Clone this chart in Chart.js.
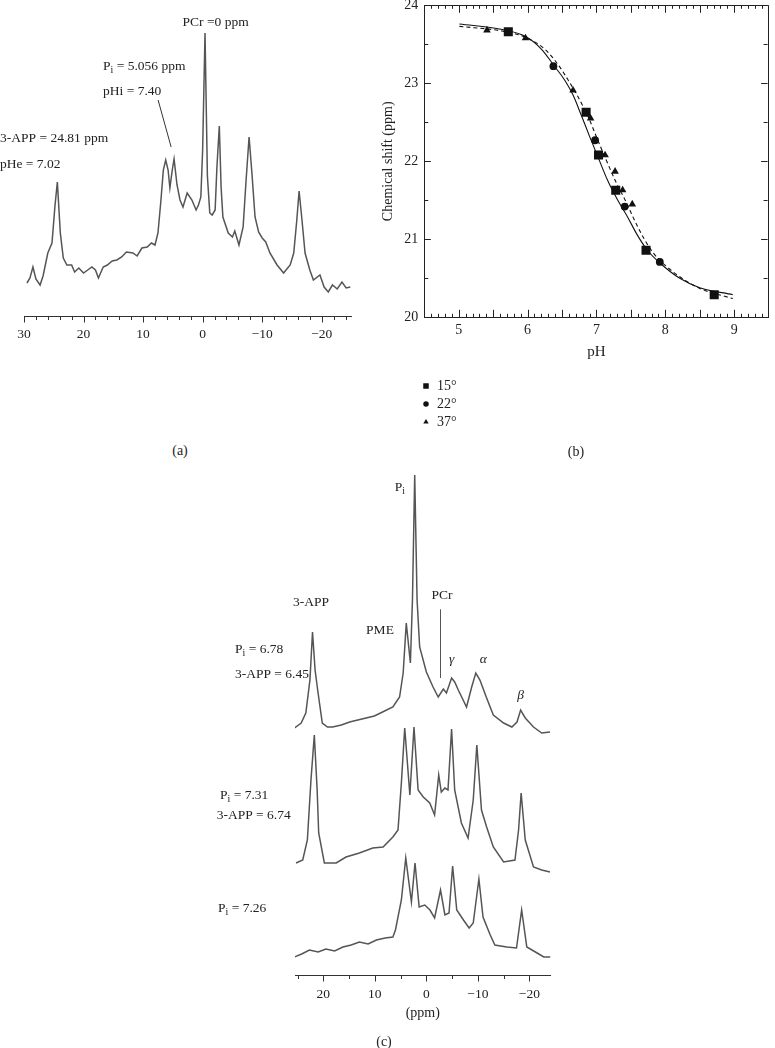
<!DOCTYPE html>
<html>
<head>
<meta charset="utf-8">
<script src="https://cdn.jsdelivr.net/npm/chart.js@4.4.1/dist/chart.umd.min.js"></script>
<style>
  html, body { margin:0; padding:0; background:#ffffff; }
  body { width:775px; height:1048px; position:relative; overflow:hidden; }
  canvas { position:absolute; }
  .cap { position:absolute; font-family:"Liberation Serif","Times New Roman",serif; font-size:14px; color:#222; transform:translate(-50%,-50%); white-space:nowrap; }
</style>
</head>
<body>
<canvas id="chartA" width="370" height="350" style="left:0px;top:0px"></canvas>
<canvas id="chartB" width="405" height="480" style="left:370px;top:-10px"></canvas>
<canvas id="chartC" width="380" height="588" style="left:200px;top:460px"></canvas>
<div class="cap" style="left:180px;top:451px">(a)</div>
<div class="cap" style="left:576px;top:452px">(b)</div>
<div class="cap" style="left:384px;top:1042px">(c)</div>
<script>
// ================= DATA =================
// Panel (a): 31P spectrum, chemical shift (ppm) vs relative intensity
const ppmA = [29.5, 29.0, 28.5, 28.0, 27.3, 26.8, 26.0, 25.3, 24.8, 24.4, 23.9, 23.4, 22.8, 22.0, 21.5, 20.8, 20.0, 19.3, 18.6, 18.0, 17.5, 16.7, 16.0, 15.2, 14.4, 13.6, 12.8, 11.7, 11.0, 10.2, 9.3, 8.6, 8.0, 7.5, 7.0, 6.6, 6.2, 5.8, 5.5, 5.1, 4.8, 4.3, 3.8, 3.3, 2.6, 1.8, 1.1, 0.7, 0.3, 0.0, -0.4, -0.8, -1.2, -1.6, -2.1, -2.4, -2.8, -3.1, -3.4, -4.3, -5.0, -5.4, -6.1, -6.8, -7.3, -7.8, -8.3, -8.8, -9.4, -10.0, -10.6, -11.3, -12.5, -13.6, -14.7, -15.3, -15.8, -16.2, -16.7, -17.2, -18.0, -18.6, -19.7, -20.4, -21.1, -21.8, -22.6, -23.4, -24.1, -24.8];
const intA = [33, 38, 49, 37, 31, 40, 63, 73, 110, 134, 83, 58, 51, 51, 44, 48, 43, 46, 49, 46, 38, 49, 51, 55, 56, 59, 64, 63, 60, 68, 69, 73, 71, 83, 116, 146, 156, 146, 128, 146, 157, 131, 116, 109, 123, 116, 106, 111, 119, 166, 283, 140, 103, 101, 106, 149, 190, 129, 99, 83, 79, 85, 71, 89, 136, 179, 141, 99, 84, 78, 74, 63, 51, 43, 51, 63, 95, 125, 95, 63, 46, 36, 41, 29, 24, 31, 27, 34, 28, 29];
const tickValsA = [30, 20, 10, 0, -10, -20];
const tickLabsA = ['30', '20', '10', '0', '\u221210', '\u221220'];

// Panel (b): chemical shift of 3-APP vs pH at three temperatures
const seriesLabelsB = ['15\u00b0', '22\u00b0', '37\u00b0'];
const pH15 = [5.72, 6.85, 7.03, 7.28, 7.72, 8.71];
const shift15 = [23.66, 22.63, 22.08, 21.63, 20.86, 20.29];
const pH22 = [6.375, 6.98, 7.41, 7.92];
const shift22 = [23.22, 22.27, 21.42, 20.71];
const pH37 = [5.41, 5.97, 6.66, 6.915, 7.125, 7.27, 7.38, 7.52];
const shift37 = [23.68, 23.58, 22.91, 22.55, 22.08, 21.87, 21.63, 21.45];
const fitSolidPH = [5.01, 5.63, 5.97, 6.21, 6.38, 6.54, 6.66, 6.78, 6.90, 7.02, 7.16, 7.31, 7.45, 7.59, 7.74, 7.93, 8.21, 8.50, 8.98];
const fitSolidShift = [23.76, 23.69, 23.60, 23.43, 23.23, 23.04, 22.85, 22.59, 22.32, 22.06, 21.76, 21.50, 21.29, 21.06, 20.86, 20.69, 20.50, 20.38, 20.29];
const fitDashPH = [5.01, 5.63, 5.97, 6.26, 6.45, 6.59, 6.73, 6.88, 7.02, 7.14, 7.28, 7.43, 7.55, 7.69, 7.83, 8.02, 8.26, 8.50, 8.98];
const fitDashShift = [23.73, 23.67, 23.59, 23.43, 23.23, 23.04, 22.83, 22.57, 22.27, 22.02, 21.74, 21.48, 21.25, 21.01, 20.82, 20.65, 20.49, 20.37, 20.24];
const tickValsBx = [5, 6, 7, 8, 9];
const tickLabsBx = ['5', '6', '7', '8', '9'];
const tickValsBy = [20, 21, 22, 23, 24];
const tickLabsBy = ['20', '21', '22', '23', '24'];

// Panel (c): three stacked spectra (top: Pi = 6.78, middle: Pi = 7.31, bottom: Pi = 7.26)
const ppmCtop = [25.6, 24.3, 23.4, 22.6, 22.1, 21.6, 21.1, 20.2, 19.2, 18.2, 16.5, 14.9, 13.3, 11.7, 10.1, 8.5, 6.5, 5.2, 4.5, 3.9, 3.1, 2.7, 2.26, 1.8, 1.3, 0.0, -1.3, -2.3, -3.3, -3.9, -4.9, -5.5, -6.2, -7.8, -8.8, -9.6, -10.4, -11.7, -13.0, -15.0, -16.6, -17.6, -18.3, -19.2, -20.8, -22.4, -24.0];
const intCtop = [7, 12, 22, 55, 103, 65, 45, 12, 8, 8, 10, 13, 15, 17, 19, 23, 28, 38, 62, 112, 72, 135, 260, 135, 88, 63, 48, 38, 46, 42, 57, 53, 45, 28, 48, 62, 55, 37, 20, 12, 8, 13, 25, 17, 8, 2, 3];
const ppmCmid = [25.3, 24.0, 23.1, 22.4, 21.75, 21.2, 20.9, 19.8, 17.5, 15.6, 13.0, 10.4, 8.4, 6.5, 5.5, 4.85, 4.2, 3.2, 2.4, 1.6, 0.6, -0.66, -1.6, -2.4, -2.9, -3.6, -4.2, -4.9, -5.5, -6.8, -8.1, -9.1, -9.8, -10.7, -11.7, -13.0, -15.0, -17.2, -17.9, -18.4, -19.2, -20.8, -22.4, -24.0];
const intCmid = [7, 10, 30, 90, 135, 80, 37, 7, 7, 13, 17, 22, 23, 33, 40, 87, 142, 75, 143, 80, 73, 67, 55, 95, 78, 82, 80, 141, 80, 47, 32, 70, 125, 60, 43, 23, 8, 10, 40, 77, 30, 3, 0, -2];
const ppmCbot = [25.6, 24.2, 22.7, 21.0, 19.5, 17.8, 16.2, 14.6, 13.0, 11.3, 9.7, 8.0, 6.5, 6.0, 4.85, 4.0, 2.9, 2.2, 1.4, 0.3, -0.7, -1.6, -2.75, -3.6, -4.4, -5.1, -5.9, -7.2, -8.3, -9.1, -10.2, -11.0, -12.4, -13.3, -15.6, -17.5, -18.5, -19.5, -21.5, -22.8, -24.1];
const intCbot = [3, 6, 10, 8, 11, 9, 13, 15, 18, 16, 20, 22, 23, 30, 60, 102, 58, 97, 53, 55, 50, 42, 70, 45, 47, 94, 50, 40, 32, 37, 81, 43, 25, 15, 13, 12, 50, 13, 7, 3, 3];
const tickValsC = [20, 10, 0, -10, -20];
const tickLabsC = ['20', '10', '0', '\u221210', '\u221220'];

// ================= SETUP =================
const FAMILY = '"Liberation Serif", "Times New Roman", serif';
Chart.defaults.font.family = FAMILY;
Chart.defaults.color = '#222';
const LINE = '#555555';
const INK = '#222';

function xy(xs, ys, off) { off = off || 0; return xs.map((x, i) => ({ x: x, y: ys[i] + off })); }

function drawParts(ctx, px, py, parts, align, size, italic) {
  const fMain = (italic ? 'italic ' : '') + size + 'px ' + FAMILY;
  const fSub = Math.round(size * 0.72) + 'px ' + FAMILY;
  let w = 0;
  for (const p of parts) { ctx.font = p[1] ? fSub : fMain; w += ctx.measureText(p[0]).width; }
  let cx = align === 'center' ? px - w / 2 : px;
  ctx.textAlign = 'left'; ctx.textBaseline = 'middle'; ctx.fillStyle = INK;
  for (const p of parts) {
    ctx.font = p[1] ? fSub : fMain;
    ctx.fillText(p[0], cx, p[1] ? py + size * 0.32 : py);
    cx += ctx.measureText(p[0]).width;
  }
}
function vTick(ctx, x, y0, y1) { const px = Math.round(x) + 0.5; ctx.beginPath(); ctx.moveTo(px, y0); ctx.lineTo(px, y1); ctx.stroke(); }
function hTick(ctx, y, x0, x1) { const py = Math.round(y) + 0.5; ctx.beginPath(); ctx.moveTo(x0, py); ctx.lineTo(x1, py); ctx.stroke(); }

// ================= PANEL (a) =================
const annotA = [
  { x: -2.18, y: 294, parts: [['PCr =0 ppm']], align: 'center' },
  { x: 16.72, y: 250, parts: [['P'], ['i', 1], [' = 5.056 ppm']], align: 'left' },
  { x: 16.72, y: 225, parts: [['pHi = 7.40']], align: 'left' },
  { x: 34.03, y: 178, parts: [['3-APP = 24.81 ppm']], align: 'left' },
  { x: 34.03, y: 152, parts: [['pHe = 7.02']], align: 'left' }
];
const pointerA = [[7.48, 216], [5.29, 169]];

const panelAPlugin = {
  id: 'panelA',
  afterDraw(chart) {
    const ctx = chart.ctx, ca = chart.chartArea, xs = chart.scales.x, ys = chart.scales.y;
    ctx.save();
    ctx.strokeStyle = '#333'; ctx.lineWidth = 1;
    for (let v = 30; v >= -24; v -= 2) {
      vTick(ctx, xs.getPixelForValue(v), ca.bottom, ca.bottom + (v % 10 === 0 ? 6.5 : 4));
    }
    ctx.beginPath();
    ctx.moveTo(xs.getPixelForValue(pointerA[0][0]), ys.getPixelForValue(pointerA[0][1]));
    ctx.lineTo(xs.getPixelForValue(pointerA[1][0]), ys.getPixelForValue(pointerA[1][1]));
    ctx.stroke();
    annotA.forEach(a => drawParts(ctx, xs.getPixelForValue(a.x), ys.getPixelForValue(a.y), a.parts, a.align, 13.5));
    ctx.restore();
  }
};

new Chart(document.getElementById('chartA'), {
  type: 'scatter',
  data: { datasets: [{ label: 'spectrum', data: xy(ppmA, intA), showLine: true, borderColor: LINE, borderWidth: 1.5, pointRadius: 0, tension: 0, fill: false }] },
  options: {
    responsive: false, animation: false, devicePixelRatio: 1,
    layout: { padding: { left: 24, right: 18.5, top: 16, bottom: 0 } },
    plugins: { legend: { display: false }, tooltip: { enabled: false } },
    scales: {
      x: {
        type: 'linear', position: 'bottom', reverse: true, min: -25, max: 30,
        afterBuildTicks: s => { s.ticks = tickValsA.map(v => ({ value: v })); },
        afterFit: s => { s.height = 34; },
        grid: { display: false, drawTicks: false },
        border: { display: true, color: '#333', width: 1 },
        ticks: { padding: 10, font: { size: 13.5 }, color: INK, maxRotation: 0, autoSkip: false, callback: (v, i) => tickLabsA[i] }
      },
      y: { display: false, min: 0, max: 300 }
    }
  },
  plugins: [panelAPlugin]
});

// ================= PANEL (b) =================
const legendOffsetsB = [68.7, 86.7, 104.7];
function drawMarker(ctx, style, x, y, s) {
  ctx.beginPath();
  if (style === 'rect') { ctx.rect(x - s / 2, y - s / 2, s, s); }
  else if (style === 'circle') { ctx.arc(x, y, s / 2, 0, Math.PI * 2); }
  else { const r = s / 1.6; ctx.moveTo(x, y - r); ctx.lineTo(x + r * 0.866, y + r * 0.5); ctx.lineTo(x - r * 0.866, y + r * 0.5); ctx.closePath(); }
  ctx.fill();
}
const panelBPlugin = {
  id: 'panelB',
  afterDraw(chart) {
    const ctx = chart.ctx, ca = chart.chartArea, xs = chart.scales.x, ys = chart.scales.y;
    ctx.save();
    ctx.strokeStyle = INK; ctx.lineWidth = 1;
    hTick(ctx, ca.top, ca.left, ca.right);
    vTick(ctx, ca.right - 1, ca.top, ca.bottom);
    for (let i = 46; i <= 94; i++) {
      const v = i / 10, px = xs.getPixelForValue(v), len = (i % 5 === 0) ? 7.5 : 3.5;
      vTick(ctx, px, ca.bottom, ca.bottom - len);
      vTick(ctx, px, ca.top, ca.top + len);
    }
    for (let j = 41; j <= 47; j++) {
      const v = j / 2, py = ys.getPixelForValue(v), len = (j % 2 === 0) ? 6.5 : 4;
      hTick(ctx, py, ca.left, ca.left + len);
      hTick(ctx, py, ca.right - 1, ca.right - 1 - len);
    }
    const markerSizes = { rect: 5.5, circle: 5.5, triangle: 5 };
    chart.data.datasets.slice(0, 3).forEach((ds, k) => {
      const my = ca.bottom + legendOffsetsB[k];
      ctx.fillStyle = ds.backgroundColor;
      drawMarker(ctx, ds.pointStyle, ca.left + 1.7, my, markerSizes[ds.pointStyle]);
      ctx.fillStyle = INK; ctx.font = '14px ' + FAMILY; ctx.textAlign = 'left'; ctx.textBaseline = 'middle';
      ctx.fillText(ds.label, ca.left + 12.7, my);
    });
    ctx.restore();
  }
};

new Chart(document.getElementById('chartB'), {
  type: 'scatter',
  data: {
    datasets: [
      { label: seriesLabelsB[0], data: xy(pH15, shift15), pointStyle: 'rect', pointRadius: 6.4, backgroundColor: '#111', borderWidth: 0, showLine: false },
      { label: seriesLabelsB[1], data: xy(pH22, shift22), pointStyle: 'circle', pointRadius: 3.9, backgroundColor: '#111', borderWidth: 0, showLine: false },
      { label: seriesLabelsB[2], data: xy(pH37, shift37), pointStyle: 'triangle', pointRadius: 4.4, backgroundColor: '#111', borderWidth: 0, showLine: false },
      { label: 'fit (solid)', data: xy(fitSolidPH, fitSolidShift), showLine: true, borderColor: '#111', borderWidth: 1.1, pointRadius: 0, cubicInterpolationMode: 'monotone', fill: false },
      { label: 'fit (dashed)', data: xy(fitDashPH, fitDashShift), showLine: true, borderColor: '#111', borderWidth: 1.1, borderDash: [4, 3], pointRadius: 0, cubicInterpolationMode: 'monotone', fill: false }
    ]
  },
  options: {
    responsive: false, animation: false, devicePixelRatio: 1,
    layout: { padding: { left: 0, right: 1, top: 15.3, bottom: 109.3 } },
    plugins: { legend: { display: false }, tooltip: { enabled: false } },
    scales: {
      x: {
        type: 'linear', position: 'bottom', min: 4.5, max: 9.5,
        afterBuildTicks: s => { s.ticks = tickValsBx.map(v => ({ value: v })); },
        afterFit: s => { s.height = 43.4; },
        grid: { display: false, drawTicks: false },
        border: { display: true, color: INK, width: 1 },
        ticks: { padding: 4.6, font: { size: 14 }, color: INK, maxRotation: 0, autoSkip: false, callback: (v, i) => tickLabsBx[i] },
        title: { display: true, text: 'pH', font: { size: 15 }, color: INK, padding: 0 }
      },
      y: {
        type: 'linear', position: 'left', min: 20, max: 24,
        afterBuildTicks: s => { s.ticks = tickValsBy.map(v => ({ value: v })); },
        afterFit: s => { s.width = 54.3; },
        grid: { display: false, drawTicks: false },
        border: { display: true, color: INK, width: 1 },
        ticks: { padding: 6, font: { size: 14 }, color: INK, autoSkip: false, callback: (v, i) => tickLabsBy[i] },
        title: { display: true, text: 'Chemical shift (ppm)', font: { size: 14 }, color: INK, padding: { top: 10, bottom: 0 } }
      }
    }
  },
  plugins: [panelBPlugin]
});

// ================= PANEL (c) =================
const baselineC = [240, 105, 15];
const annotC = [
  { x: 22.39, y: 372.3, parts: [['3-APP']], align: 'center' },
  { x: 9.0, y: 344.3, parts: [['PME']], align: 'center' },
  { x: 5.12, y: 488, parts: [['P'], ['i', 1]], align: 'center' },
  { x: -3.04, y: 379.3, parts: [['PCr']], align: 'center' },
  { x: -4.92, y: 315.7, parts: [['\u03b3']], align: 'center', italic: true },
  { x: -11.06, y: 316, parts: [['\u03b1']], align: 'center', italic: true },
  { x: -18.32, y: 280, parts: [['\u03b2']], align: 'center', italic: true },
  { x: 37.15, y: 326, parts: [['P'], ['i', 1], [' = 6.78']], align: 'left' },
  { x: 37.15, y: 301, parts: [['3-APP = 6.45']], align: 'left' },
  { x: 40.06, y: 180, parts: [['P'], ['i', 1], [' = 7.31']], align: 'left' },
  { x: 40.7, y: 160, parts: [['3-APP = 6.74']], align: 'left' },
  { x: 40.45, y: 67, parts: [['P'], ['i', 1], [' = 7.26']], align: 'left' }
];
const pcrLineC = [[-2.65, 365.7], [-2.65, 297]];

const panelCPlugin = {
  id: 'panelC',
  afterDraw(chart) {
    const ctx = chart.ctx, ca = chart.chartArea, xs = chart.scales.x, ys = chart.scales.y;
    ctx.save();
    ctx.strokeStyle = '#333'; ctx.lineWidth = 1;
    for (let v = 25; v >= -20; v -= 5) {
      vTick(ctx, xs.getPixelForValue(v), ca.bottom, ca.bottom + (v % 10 === 0 ? 6.5 : 4));
    }
    ctx.strokeStyle = '#555';
    vTick(ctx, xs.getPixelForValue(pcrLineC[0][0]), ys.getPixelForValue(pcrLineC[0][1]), ys.getPixelForValue(pcrLineC[1][1]));
    annotC.forEach(a => drawParts(ctx, xs.getPixelForValue(a.x), ys.getPixelForValue(a.y), a.parts, a.align, 13.5, a.italic));
    ctx.restore();
  }
};

new Chart(document.getElementById('chartC'), {
  type: 'scatter',
  data: {
    datasets: [
      { label: 'Pi = 6.78', data: xy(ppmCtop, intCtop, baselineC[0]), showLine: true, borderColor: LINE, borderWidth: 1.5, pointRadius: 0, tension: 0, fill: false },
      { label: 'Pi = 7.31', data: xy(ppmCmid, intCmid, baselineC[1]), showLine: true, borderColor: LINE, borderWidth: 1.5, pointRadius: 0, tension: 0, fill: false },
      { label: 'Pi = 7.26', data: xy(ppmCbot, intCbot, baselineC[2]), showLine: true, borderColor: LINE, borderWidth: 1.5, pointRadius: 0, tension: 0, fill: false }
    ]
  },
  options: {
    responsive: false, animation: false, devicePixelRatio: 1,
    layout: { padding: { left: 95, right: 29.5, top: 10, bottom: 26 } },
    plugins: { legend: { display: false }, tooltip: { enabled: false } },
    scales: {
      x: {
        type: 'linear', position: 'bottom', reverse: true, min: -24.1, max: 25.5,
        afterBuildTicks: s => { s.ticks = tickValsC.map(v => ({ value: v })); },
        afterFit: s => { s.height = 47; },
        grid: { display: false, drawTicks: false },
        border: { display: true, color: '#333', width: 1 },
        ticks: { padding: 11, font: { size: 13.5 }, color: INK, maxRotation: 0, autoSkip: false, callback: (v, i) => tickLabsC[i] },
        title: { display: true, text: '(ppm)', font: { size: 14 }, color: INK, padding: 0 }
      },
      y: { display: false, min: 0, max: 505 }
    }
  },
  plugins: [panelCPlugin]
});
</script>
</body>
</html>
